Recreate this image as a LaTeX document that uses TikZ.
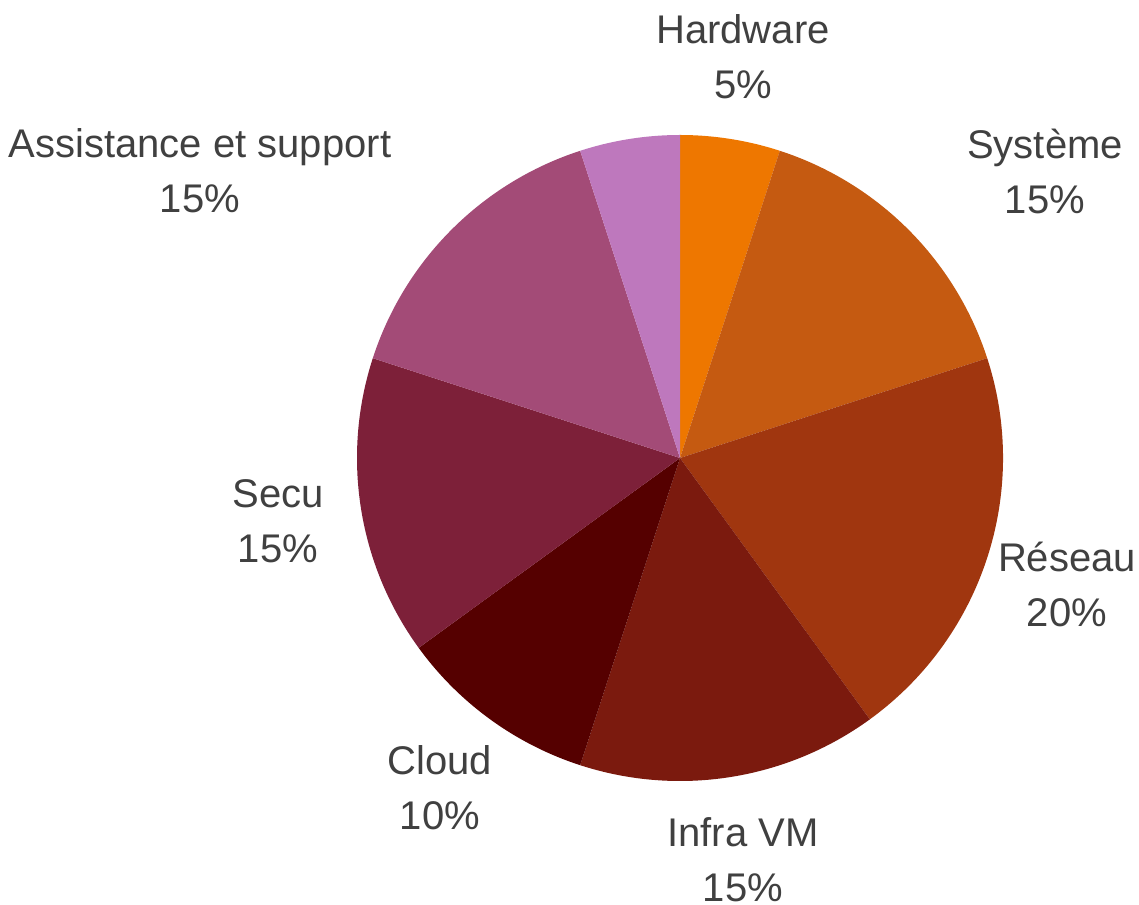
\documentclass[tikz,border=0pt]{standalone}
\usepackage{fontspec}
\setmainfont{Liberation Sans}
\definecolor{cHard}{HTML}{EE7700}
\definecolor{cSys}{HTML}{C55A11}
\definecolor{cRes}{HTML}{A0360F}
\definecolor{cInfra}{HTML}{7B1A0E}
\definecolor{cCloud}{HTML}{550000}
\definecolor{cSecu}{HTML}{7D2039}
\definecolor{cAssist}{HTML}{A34B77}
\definecolor{cPink}{HTML}{BE78BD}
\definecolor{txt}{HTML}{404040}
\tikzset{
  lbl/.style={text=txt, align=center, inner sep=0pt,
    font=\fontsize{30pt}{41.25pt}\selectfont},
}
\newcommand{\slice}[3]{%
  \fill[#3] (C) -- ++(#1:323) arc[start angle=#1, end angle=#2, radius=242.25pt] -- cycle;}
\begin{document}
\begin{tikzpicture}[x=0.75pt,y=0.75pt]
\useasboundingbox (0,0) rectangle (1139,904);
\coordinate (C) at (680,446);
\slice{90}{72}{cHard}
\slice{72}{18}{cSys}
\slice{18}{-54}{cRes}
\slice{-54}{-108}{cInfra}
\slice{-108}{-144}{cCloud}
\slice{-144}{-198}{cSecu}
\slice{-198}{-252}{cAssist}
\slice{-252}{-270}{cPink}
\node[lbl] (hw) at (743,847) {Hardware\\5\%};
\node[lbl] (sys) at (1045,733) {Système\\15\%};
\node[lbl] (res) at (1067,320) {Réseau\\20\%};
\node[lbl] (infra) at (743,44) {Infra VM\\15\%};
\node[lbl] (cloud) at (440,116) {Cloud\\10\%};
\node[lbl] (secu) at (278,383) {Secu\\15\%};
\node[lbl] (assist) at (200,733) {Assistance et support\\15\%};
\end{tikzpicture}
\end{document}
